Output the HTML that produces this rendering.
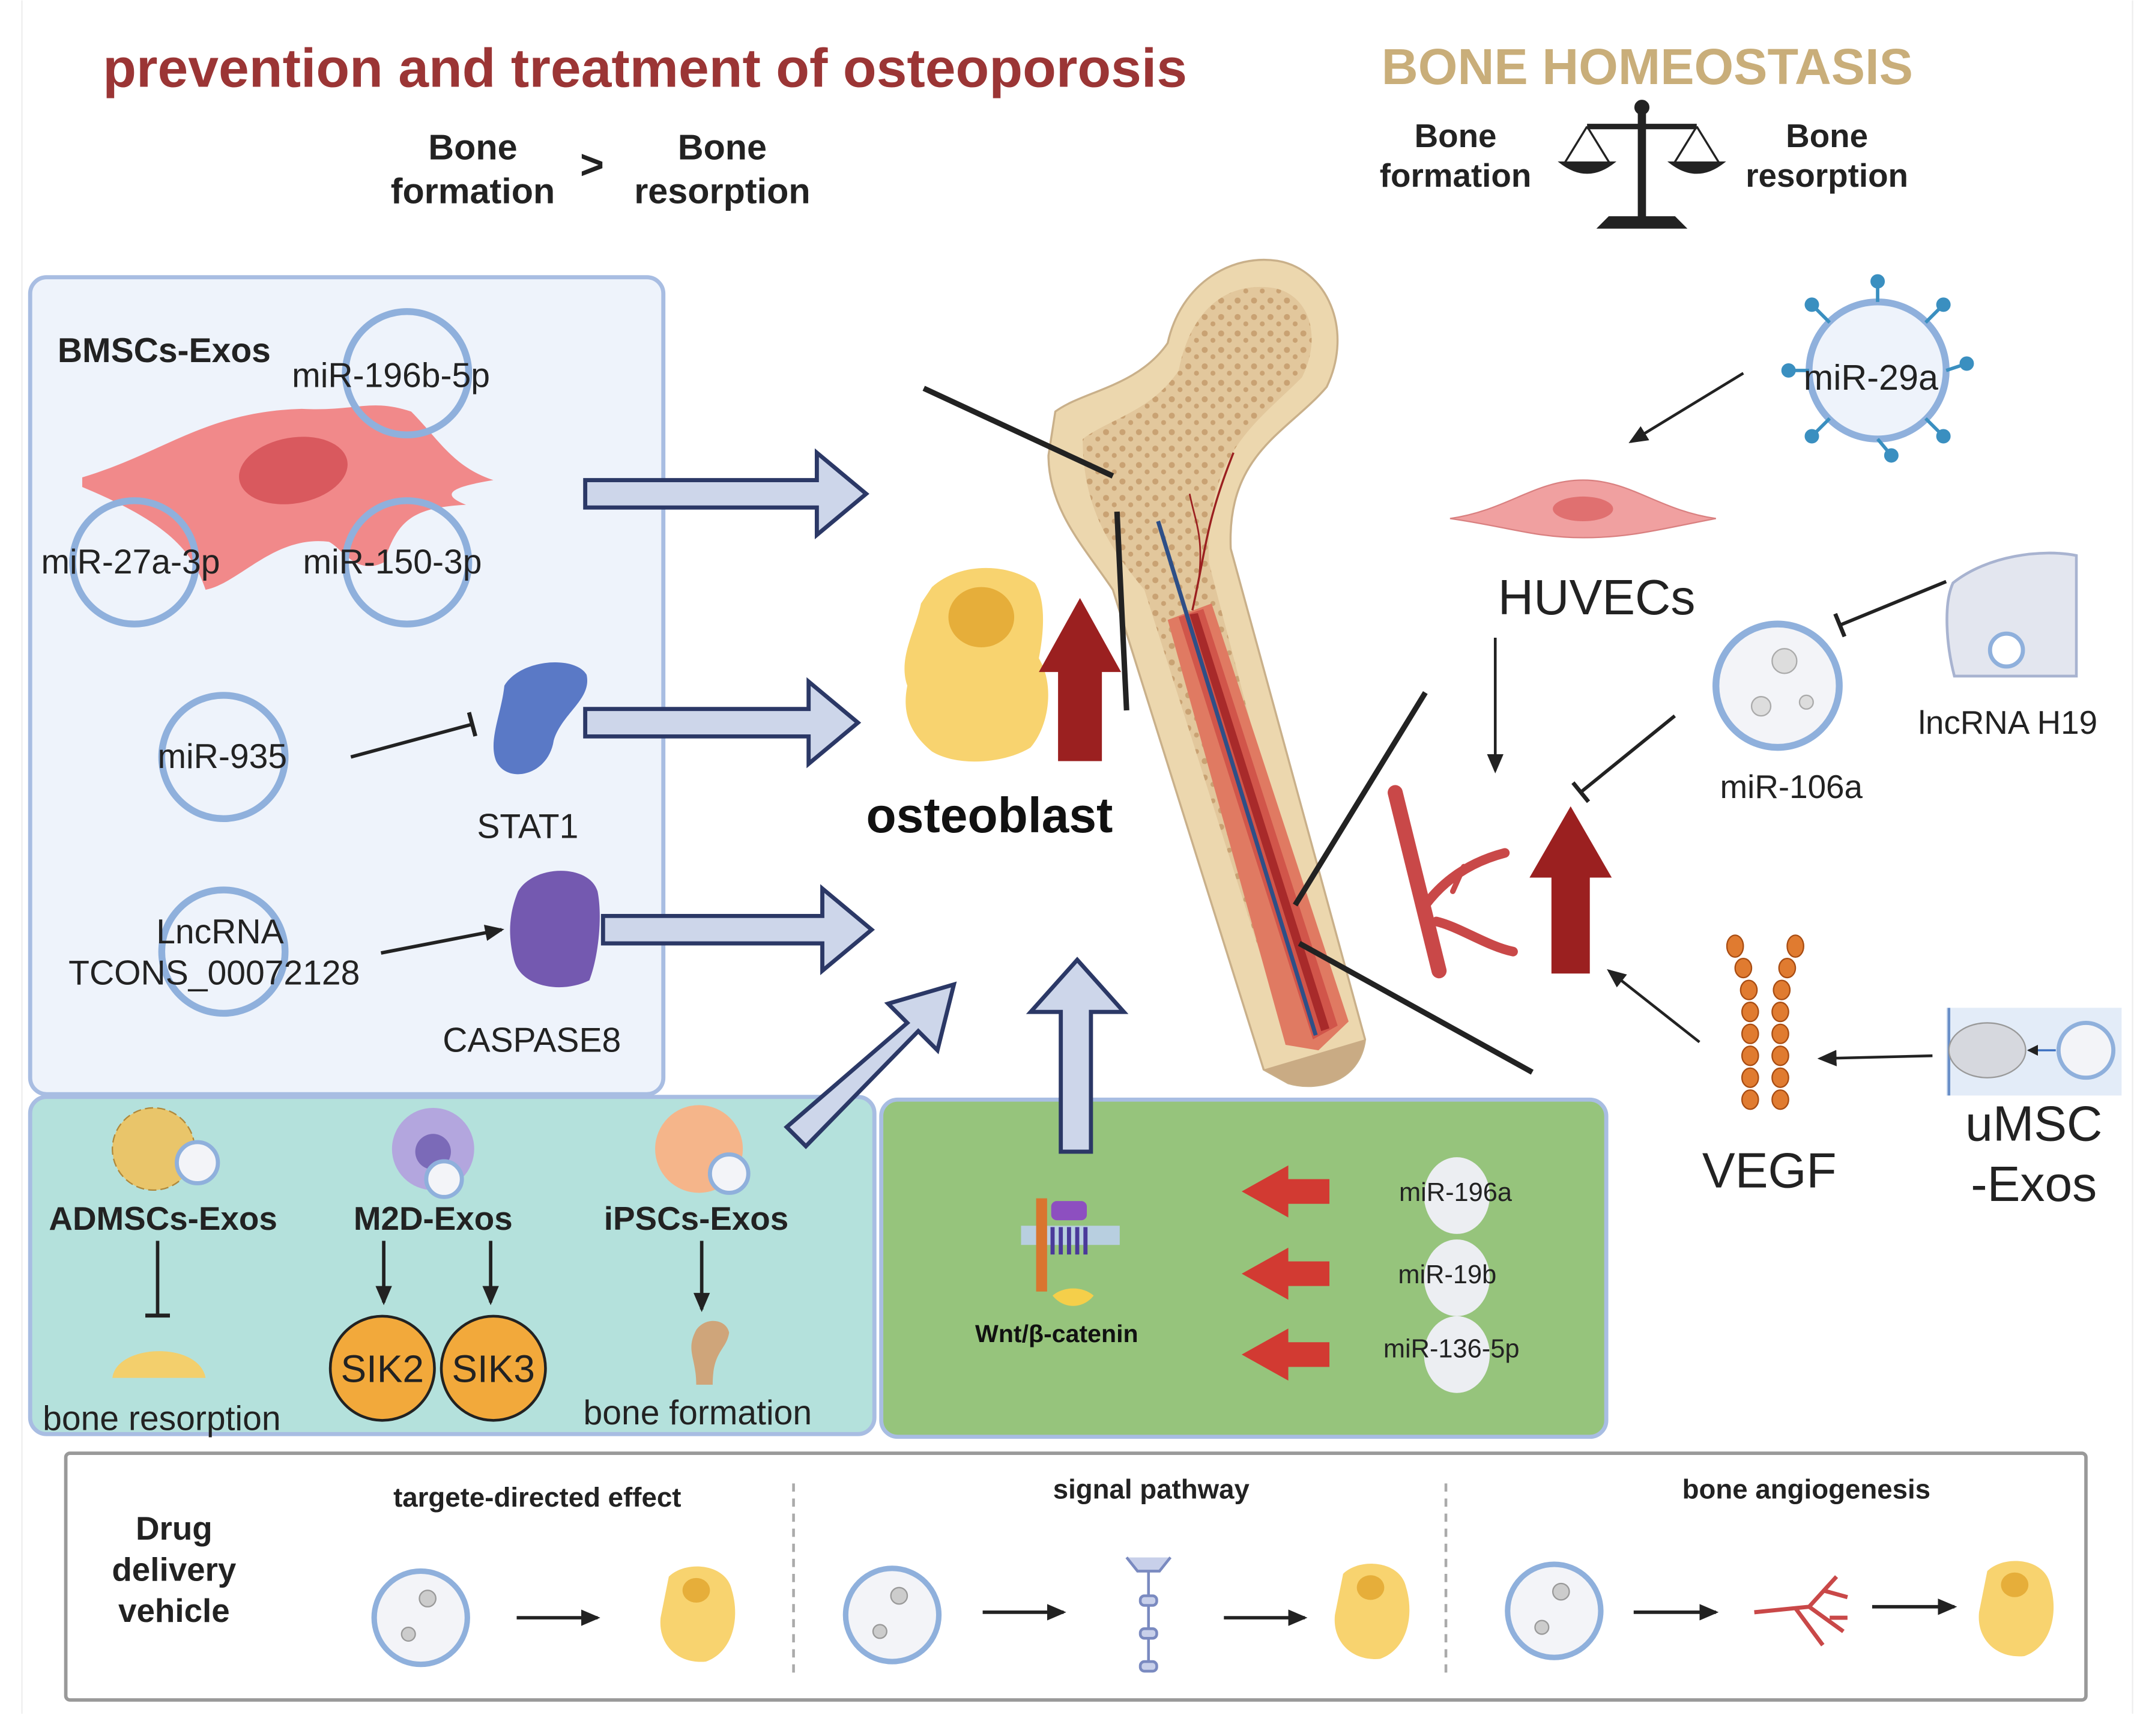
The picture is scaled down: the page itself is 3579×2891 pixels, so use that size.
<!DOCTYPE html>
<html><head><meta charset="utf-8"><style>
html,body{margin:0;padding:0;background:#fff;}
svg{display:block;}
text{font-family:"Liberation Sans",Arial,sans-serif;}
</style></head><body>
<svg width="3579" height="2891" viewBox="0 0 1568 1266" xmlns="http://www.w3.org/2000/svg">
<defs>
<marker id="ah" markerWidth="8" markerHeight="8" refX="7" refY="4" orient="auto" markerUnits="userSpaceOnUse"><path d="M0,0 L8,4 L0,8 Z" fill="#222"/></marker>
<marker id="ahL" markerWidth="14" markerHeight="12" refX="12" refY="6" orient="auto" markerUnits="userSpaceOnUse"><path d="M0,0 L14,6 L0,12 Z" fill="#222"/></marker>
<marker id="tee" markerWidth="4" markerHeight="18" refX="2" refY="9" orient="auto" markerUnits="userSpaceOnUse"><rect x="0" y="0" width="3" height="18" fill="#222"/></marker>
<pattern id="sp" width="12" height="12" patternUnits="userSpaceOnUse"><rect width="12" height="12" fill="#e2c79c"/><circle cx="3" cy="3" r="2.2" fill="#c9a273"/><circle cx="9" cy="8" r="1.8" fill="#c9a273"/></pattern>
</defs>
<rect width="1568" height="1266" fill="#fff"/>
<line x1="16" y1="0" x2="16" y2="1250" stroke="#eee" stroke-width="1"/>
<line x1="1556" y1="0" x2="1556" y2="1250" stroke="#eee" stroke-width="1"/>

<text x="75" y="63" font-size="40" font-weight="bold" fill="#9b3535">prevention and treatment of osteoporosis</text>
<text x="1008" y="61" font-size="37" font-weight="bold" fill="#c9ae7a">BONE HOMEOSTASIS</text>
<g font-size="26" font-weight="bold" fill="#222" text-anchor="middle">
<text x="345" y="116">Bone</text><text x="345" y="148">formation</text>
<text x="527" y="116">Bone</text><text x="527" y="148">resorption</text>
<text x="432" y="130" font-size="30">&gt;</text>
<text x="1062" y="107" font-size="24">Bone</text><text x="1062" y="136" font-size="24">formation</text>
<text x="1333" y="107" font-size="24">Bone</text><text x="1333" y="136" font-size="24">resorption</text>
</g>
<g fill="#222" stroke="#222">
<line x1="1198" y1="78" x2="1198" y2="160" stroke-width="6"/>
<circle cx="1198" cy="78" r="5"/>
<line x1="1158" y1="92" x2="1238" y2="92" stroke-width="4"/>
<path d="M1166,166 L1230,166 L1222,158 L1174,158 Z"/>
<line x1="1158" y1="92" x2="1142" y2="118" stroke-width="1.5"/><line x1="1158" y1="92" x2="1174" y2="118" stroke-width="1.5"/>
<line x1="1238" y1="92" x2="1222" y2="118" stroke-width="1.5"/><line x1="1238" y1="92" x2="1254" y2="118" stroke-width="1.5"/>
<path d="M1138,118 L1178,118 Q1158,134 1138,118 Z"/>
<path d="M1218,118 L1258,118 Q1238,134 1218,118 Z"/>
</g>

<rect x="22" y="202" width="462" height="596" rx="12" fill="#eef3fb" stroke="#a8bde2" stroke-width="3"/>
<rect x="22" y="800" width="616" height="246" rx="12" fill="#b4e1dc" stroke="#a8bde2" stroke-width="3"/>
<rect x="643" y="802" width="529" height="246" rx="12" fill="#96c47c" stroke="#a8bde2" stroke-width="3"/>
<rect x="48" y="1060" width="1474" height="180" rx="3" fill="#fff" stroke="#999" stroke-width="2.5"/>

<path d="M60,348 C120,330 150,300 220,298 C260,300 270,290 300,300 C320,320 330,340 360,350 C330,355 320,360 340,368 C300,370 290,380 280,410 C260,420 250,400 240,395 C200,390 175,425 150,430 C140,400 120,380 60,355 Z" fill="#f1898a"/>
<ellipse cx="214" cy="343" rx="40" ry="24" fill="#d9595e" transform="rotate(-10 214 343)"/>
<g fill="none" stroke="#8fb0dc" stroke-width="5">
<circle cx="297" cy="272" r="45"/><circle cx="98" cy="410" r="45"/><circle cx="297" cy="410" r="45"/>
<circle cx="163" cy="552" r="45"/><circle cx="163" cy="694" r="45"/>
</g>
<g font-size="25" fill="#222">
<text x="42" y="264" font-weight="bold">BMSCs-Exos</text>
<text x="213" y="282">miR-196b-5p</text>
<text x="30" y="418">miR-27a-3p</text>
<text x="221" y="418">miR-150-3p</text>
<text x="115" y="560">miR-935</text>
<text x="348" y="611">STAT1</text>
<text x="114" y="688">LncRNA</text>
<text x="50" y="718">TCONS_00072128</text>
<text x="323" y="767">CASPASE8</text>
</g>
<path d="M368,500 C380,480 420,478 428,492 C432,510 410,520 404,540 C400,566 370,572 362,555 C356,540 366,520 368,500 Z" fill="#5a79c6"/>
<path d="M378,650 C390,630 430,630 436,650 C440,670 436,700 430,715 C410,725 380,720 375,700 C370,680 372,665 378,650 Z" fill="#7459b0"/>
<line x1="256" y1="552" x2="345" y2="528" stroke="#222" stroke-width="2.5" marker-end="url(#tee)"/>
<line x1="278" y1="695" x2="366" y2="678" stroke="#222" stroke-width="2.5" marker-end="url(#ahL)"/>

<g fill="#cdd6ea" stroke="#2b3866" stroke-width="3">
<path d="M427,350 L596,350 L596,330 L632,360 L596,390 L596,370 L427,370 Z"/>
<path d="M427,517 L590,517 L590,497 L626,527 L590,557 L590,537 L427,537 Z"/>
<path d="M440,668 L600,668 L600,648 L636,678 L600,708 L600,688 L440,688 Z"/>
<path d="M774,840 L774,738 L752,738 L786,700 L820,738 L796,738 L796,840 Z"/>
<path d="M574,822 L662,746 L648,732 L696,718 L684,766 L670,752 L588,836 Z"/>
</g>

<path d="M680,428 C700,410 735,410 755,425 C765,440 760,470 758,480 C770,500 765,530 752,545 C735,556 700,560 680,548 C664,535 658,520 662,500 C655,480 668,460 672,440 Z" fill="#f8d36f"/>
<ellipse cx="716" cy="450" rx="24" ry="22" fill="#e6ae3a"/>
<path d="M772,555 L772,490 L758,490 L788,436 L818,490 L804,490 L804,555 Z" fill="#9b2020"/>
<text x="722" y="607" font-size="36" font-weight="bold" fill="#111" text-anchor="middle">osteoblast</text>

<path d="M770,300 C790,285 830,282 852,250 C862,205 900,185 932,190 C968,196 988,240 968,282 C940,315 895,330 898,400 L996,758 C992,790 960,796 940,790 L922,780 L812,430 C792,400 765,372 765,332 Z" fill="#ecd7ae" stroke="#c9b08a" stroke-width="1.5"/>
<path d="M790,320 C810,305 840,300 860,270 C870,220 900,205 930,210 C955,215 965,245 950,275 C915,310 880,330 882,410 L968,740 L940,760 L835,430 C810,400 790,370 790,320 Z" fill="url(#sp)"/>
<path d="M852,452 L884,440 L984,745 L962,766 L938,762 Z" fill="#e07a62"/>
<path d="M860,450 L878,444 L976,748 L958,758 Z" fill="#d1554a"/>
<path d="M868,448 L874,447 L970,750 L964,752 Z" fill="#a82a2a"/>
<line x1="845" y1="380" x2="960" y2="755" stroke="#2e4f87" stroke-width="3"/>
<path d="M870,445 C880,400 880,380 900,330" stroke="#9b2020" stroke-width="1.5" fill="none"/>
<path d="M875,420 C878,390 872,380 868,360" stroke="#9b2020" stroke-width="1.2" fill="none"/>
<path d="M922,780 L996,758 C992,790 960,796 940,790 Z" fill="#c9ab84"/>

<g stroke="#222" stroke-width="4">
<line x1="674" y1="283" x2="812" y2="347"/>
<line x1="815" y1="373" x2="822" y2="518"/>
<line x1="1040" y1="505" x2="945" y2="660"/>
<line x1="948" y1="688" x2="1118" y2="782"/>
</g>

<circle cx="1370" cy="270" r="50" fill="#eef3fb" stroke="#8fb0dc" stroke-width="5"/>
<g stroke="#3a8fc0" stroke-width="2.5" fill="#3a8fc0">
<line x1="1370" y1="220" x2="1370" y2="205"/><circle cx="1370" cy="205" r="4"/>
<line x1="1335" y1="235" x2="1322" y2="222"/><circle cx="1322" cy="222" r="4"/>
<line x1="1405" y1="235" x2="1418" y2="222"/><circle cx="1418" cy="222" r="4"/>
<line x1="1320" y1="270" x2="1305" y2="270"/><circle cx="1305" cy="270" r="4"/>
<line x1="1420" y1="270" x2="1435" y2="265"/><circle cx="1435" cy="265" r="4"/>
<line x1="1335" y1="305" x2="1322" y2="318"/><circle cx="1322" cy="318" r="4"/>
<line x1="1405" y1="305" x2="1418" y2="318"/><circle cx="1418" cy="318" r="4"/>
<line x1="1370" y1="320" x2="1380" y2="332"/><circle cx="1380" cy="332" r="4"/>
</g>
<text x="1316" y="284" font-size="26" fill="#222">miR-29a</text>
<line x1="1272" y1="272" x2="1190" y2="322" stroke="#222" stroke-width="2" marker-end="url(#ahL)"/>
<path d="M1058,378 C1100,372 1120,350 1155,350 C1190,350 1210,372 1252,378 C1210,386 1190,392 1155,392 C1120,392 1100,384 1058,378 Z" fill="#f0a0a0" stroke="#d98080"/>
<ellipse cx="1155" cy="371" rx="22" ry="9" fill="#e07070"/>
<text x="1165" y="448" font-size="36" fill="#222" text-anchor="middle">HUVECs</text>
<line x1="1091" y1="465" x2="1091" y2="562" stroke="#222" stroke-width="2" marker-end="url(#ahL)"/>
<path d="M1425,425 C1450,405 1490,400 1515,405 L1515,493 L1426,493 C1420,470 1418,440 1425,425 Z" fill="#e3e6ef" stroke="#a8b3d0" stroke-width="2"/>
<circle cx="1464" cy="474" r="12" fill="#fff" stroke="#8fb0dc" stroke-width="3"/>
<text x="1465" y="535" font-size="24" fill="#222" text-anchor="middle">lncRNA H19</text>
<line x1="1420" y1="424" x2="1342" y2="456" stroke="#222" stroke-width="2.5" marker-end="url(#tee)"/>
<circle cx="1297" cy="500" r="45" fill="#f3f4f8" stroke="#8fb0dc" stroke-width="5"/>
<circle cx="1302" cy="482" r="9" fill="#ddd" stroke="#aaa"/><circle cx="1285" cy="515" r="7" fill="#ddd" stroke="#aaa"/><circle cx="1318" cy="512" r="5" fill="#ddd" stroke="#aaa"/>
<text x="1307" y="582" font-size="24" fill="#222" text-anchor="middle">miR-106a</text>
<line x1="1222" y1="522" x2="1153" y2="578" stroke="#222" stroke-width="2.5" marker-end="url(#tee)"/>
<g stroke="#c94848" fill="none" stroke-linecap="round">
<path d="M1018,578 L1050,708" stroke-width="11"/>
<path d="M1040,660 C1055,640 1075,628 1098,622" stroke-width="7"/>
<path d="M1048,672 C1065,676 1085,690 1104,694" stroke-width="7"/>
<path d="M1060,650 L1068,632" stroke-width="4"/>
</g>
<path d="M1132,710 L1132,640 L1116,640 L1146,588 L1176,640 L1160,640 L1160,710 Z" fill="#9b2020"/>
<g fill="#e07b30" stroke="#a84c12" stroke-width="1">
<ellipse cx="1266" cy="690" rx="6" ry="8"/><ellipse cx="1310" cy="690" rx="6" ry="8"/>
<ellipse cx="1272" cy="706" rx="6" ry="7"/><ellipse cx="1304" cy="706" rx="6" ry="7"/>
<ellipse cx="1276" cy="722" rx="6" ry="7"/><ellipse cx="1300" cy="722" rx="6" ry="7"/>
<ellipse cx="1277" cy="738" rx="6" ry="7"/><ellipse cx="1299" cy="738" rx="6" ry="7"/>
<ellipse cx="1277" cy="754" rx="6" ry="7"/><ellipse cx="1299" cy="754" rx="6" ry="7"/>
<ellipse cx="1277" cy="770" rx="6" ry="7"/><ellipse cx="1299" cy="770" rx="6" ry="7"/>
<ellipse cx="1277" cy="786" rx="6" ry="7"/><ellipse cx="1299" cy="786" rx="6" ry="7"/>
<ellipse cx="1277" cy="802" rx="6" ry="7"/><ellipse cx="1299" cy="802" rx="6" ry="7"/>
</g>
<text x="1291" y="866" font-size="36" fill="#222" text-anchor="middle">VEGF</text>
<line x1="1240" y1="760" x2="1174" y2="708" stroke="#222" stroke-width="2" marker-end="url(#ahL)"/>
<line x1="1410" y1="770" x2="1328" y2="772" stroke="#222" stroke-width="2" marker-end="url(#ahL)"/>
<rect x="1420" y="735" width="128" height="64" fill="#e3ecf8"/>
<line x1="1422" y1="735" x2="1422" y2="799" stroke="#6a8fc8" stroke-width="2"/>
<ellipse cx="1450" cy="766" rx="28" ry="20" fill="#d6d8de" stroke="#999"/>
<circle cx="1522" cy="766" r="20" fill="#f3f4f8" stroke="#8fb0dc" stroke-width="3"/>
<line x1="1500" y1="766" x2="1480" y2="766" stroke="#3a6fc0" stroke-width="1.5" marker-end="url(#ah)"/>
<text x="1484" y="832" font-size="36" fill="#222" text-anchor="middle">uMSC</text>
<text x="1484" y="876" font-size="36" fill="#222" text-anchor="middle">-Exos</text>

<g>
<circle cx="112" cy="838" r="30" fill="#e9c56a" stroke="#b0883a" stroke-dasharray="6 3"/>
<circle cx="144" cy="848" r="15" fill="#f3f4f8" stroke="#8fb0dc" stroke-width="3"/>
<circle cx="316" cy="838" r="30" fill="#b3a6de"/><circle cx="316" cy="840" r="13" fill="#7b6ab8"/>
<circle cx="324" cy="860" r="13" fill="#f3f4f8" stroke="#8fb0dc" stroke-width="3"/>
<circle cx="510" cy="838" r="32" fill="#f5b58a"/>
<circle cx="532" cy="856" r="14" fill="#f3f4f8" stroke="#8fb0dc" stroke-width="3"/>
</g>
<g font-size="24" font-weight="bold" fill="#222" text-anchor="middle">
<text x="119" y="897">ADMSCs-Exos</text><text x="316" y="897">M2D-Exos</text><text x="508" y="897">iPSCs-Exos</text>
</g>
<line x1="115" y1="905" x2="115" y2="960" stroke="#222" stroke-width="2.5" marker-end="url(#tee)"/>
<line x1="280" y1="905" x2="280" y2="950" stroke="#222" stroke-width="2.5" marker-end="url(#ahL)"/>
<line x1="358" y1="905" x2="358" y2="950" stroke="#222" stroke-width="2.5" marker-end="url(#ahL)"/>
<line x1="512" y1="905" x2="512" y2="955" stroke="#222" stroke-width="2.5" marker-end="url(#ahL)"/>
<path d="M82,1005 C85,980 145,978 150,1005 Z" fill="#f3cf6c"/>
<circle cx="279" cy="998" r="38" fill="#f2a93b" stroke="#222" stroke-width="2"/>
<circle cx="360" cy="998" r="38" fill="#f2a93b" stroke="#222" stroke-width="2"/>
<text x="279" y="1008" font-size="28" fill="#222" text-anchor="middle">SIK2</text>
<text x="360" y="1008" font-size="28" fill="#222" text-anchor="middle">SIK3</text>
<path d="M508,970 C515,960 530,962 532,972 C530,985 520,985 520,1010 L508,1010 C508,990 500,985 508,970 Z" fill="#cfa57a"/>
<text x="118" y="1043" font-size="25" fill="#222" text-anchor="middle">bone resorption</text>
<text x="509" y="1039" font-size="25" fill="#222" text-anchor="middle">bone formation</text>

<rect x="745" y="894" width="72" height="14" fill="#b8cfe0"/>
<rect x="756" y="874" width="8" height="68" fill="#d9752f"/>
<rect x="767" y="876" width="26" height="14" rx="4" fill="#8d4fc0"/>
<path d="M768,895 v20 M774,895 v20 M780,895 v20 M786,895 v20 M792,895 v20" stroke="#4a3a9a" stroke-width="3"/>
<path d="M768,945 C776,955 790,955 798,945 C790,938 776,938 768,945 Z" fill="#f5cf4a"/>
<text x="771" y="979" font-size="18" font-weight="bold" fill="#111" text-anchor="middle">Wnt/β-catenin</text>
<g fill="#d23a32">
<path d="M970,860 L940,860 L940,850 L906,869 L940,888 L940,878 L970,878 Z"/>
<path d="M970,920 L940,920 L940,910 L906,929 L940,948 L940,938 L970,938 Z"/>
<path d="M970,979 L940,979 L940,969 L906,988 L940,1007 L940,997 L970,997 Z"/>
</g>
<g fill="#eceef2">
<ellipse cx="1063" cy="872" rx="24" ry="28"/><ellipse cx="1063" cy="932" rx="24" ry="28"/><ellipse cx="1063" cy="988" rx="24" ry="28"/>
</g>
<g font-size="19" fill="#222" text-anchor="middle">
<text x="1062" y="876">miR-196a</text><text x="1056" y="936">miR-19b</text><text x="1059" y="990">miR-136-5p</text>
</g>

<g font-size="24" font-weight="bold" fill="#222" text-anchor="middle">
<text x="127" y="1123">Drug</text><text x="127" y="1153">delivery</text><text x="127" y="1183">vehicle</text>
</g>
<g font-size="20" font-weight="bold" fill="#222" text-anchor="middle">
<text x="392" y="1099">targete-directed effect</text><text x="840" y="1093">signal pathway</text><text x="1318" y="1093">bone angiogenesis</text>
</g>
<line x1="579" y1="1082" x2="579" y2="1220" stroke="#aaa" stroke-width="2" stroke-dasharray="6 5"/>
<line x1="1055" y1="1082" x2="1055" y2="1220" stroke="#aaa" stroke-width="2" stroke-dasharray="6 5"/>
<g fill="#f3f4f8" stroke="#8fb0dc" stroke-width="4">
<circle cx="307" cy="1180" r="34"/><circle cx="651" cy="1178" r="34"/><circle cx="1134" cy="1175" r="34"/>
</g>
<g fill="#ccc" stroke="#999"><circle cx="312" cy="1166" r="6"/><circle cx="298" cy="1192" r="5"/><circle cx="656" cy="1164" r="6"/><circle cx="642" cy="1190" r="5"/><circle cx="1139" cy="1161" r="6"/><circle cx="1125" cy="1187" r="5"/></g>
<g stroke="#222" stroke-width="2.5">
<line x1="377" y1="1180" x2="436" y2="1180" marker-end="url(#ahL)"/>
<line x1="717" y1="1176" x2="776" y2="1176" marker-end="url(#ahL)"/>
<line x1="893" y1="1180" x2="952" y2="1180" marker-end="url(#ahL)"/>
<line x1="1192" y1="1176" x2="1252" y2="1176" marker-end="url(#ahL)"/>
<line x1="1366" y1="1172" x2="1426" y2="1172" marker-end="url(#ahL)"/>
</g>
<g fill="#f8d36f">
<path d="M488,1150 C500,1138 530,1140 534,1160 C540,1180 535,1205 515,1212 C495,1214 480,1200 482,1180 Z"/>
<path d="M980,1148 C992,1136 1022,1138 1026,1158 C1032,1178 1027,1203 1007,1210 C987,1212 972,1198 974,1178 Z"/>
<path d="M1450,1146 C1462,1134 1492,1136 1496,1156 C1502,1176 1497,1201 1477,1208 C1457,1210 1442,1196 1444,1176 Z"/>
</g>
<g fill="#e6ae3a"><ellipse cx="508" cy="1160" rx="10" ry="9"/><ellipse cx="1000" cy="1158" rx="10" ry="9"/><ellipse cx="1470" cy="1156" rx="10" ry="9"/></g>
<g stroke="#7a8ac0" stroke-width="2" fill="#c8d0ea">
<line x1="838" y1="1140" x2="838" y2="1218"/>
<rect x="832" y="1164" width="12" height="7" rx="3"/><rect x="832" y="1188" width="12" height="7" rx="3"/><rect x="832" y="1212" width="12" height="7" rx="3"/>
<path d="M822,1136 L830,1146 L846,1146 L854,1136"/>
</g>
<path d="M1280,1176 L1320,1172 L1340,1150 M1320,1172 L1345,1190 M1310,1173 L1330,1200 M1330,1160 L1348,1165 M1335,1180 L1348,1180" stroke="#c94848" stroke-width="3" fill="none"/>
</svg>
</body></html>
